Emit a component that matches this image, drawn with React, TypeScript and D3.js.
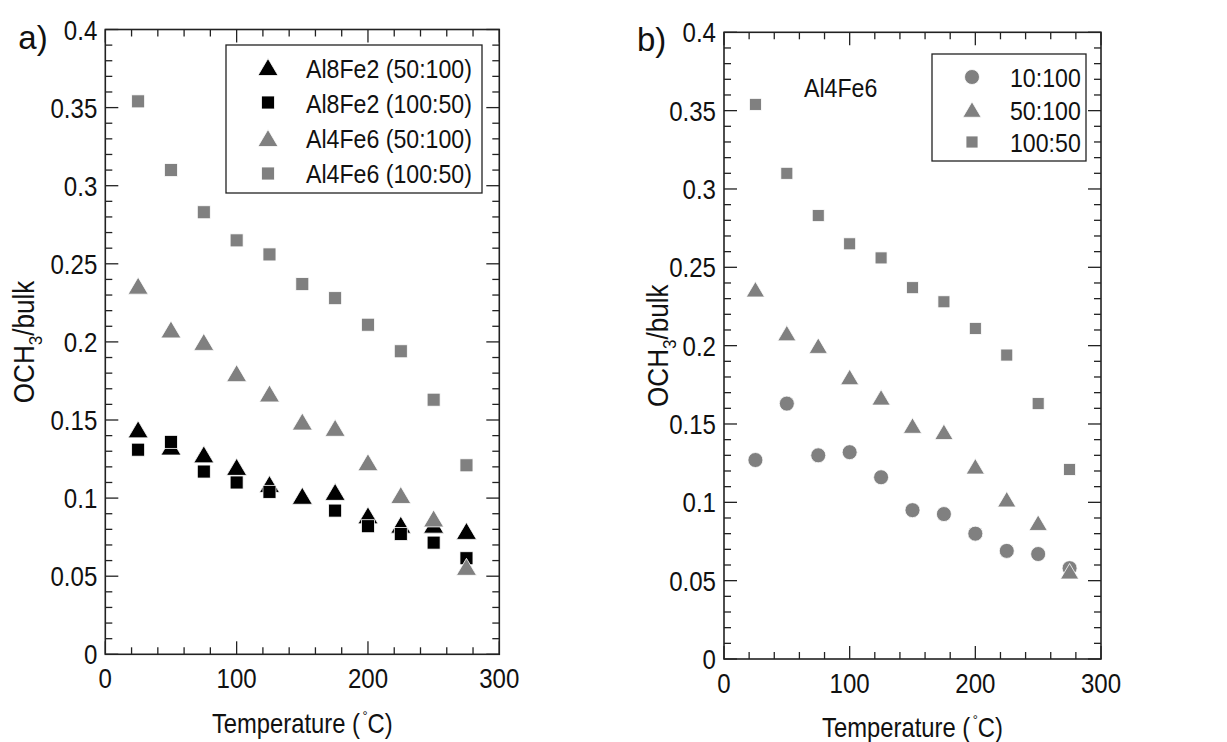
import React from 'react';
import * as d3 from 'd3';

// temperatures (°C) shared by every series
const temps = [25, 50, 75, 100, 125, 150, 175, 200, 225, 250, 275];

// OCH3/bulk values
const al8fe2_50_100 = [0.144, 0.133, 0.128, 0.120, 0.109, 0.1015, 0.104, 0.089, 0.083, 0.083, 0.079];
const al8fe2_100_50 = [0.131, 0.136, 0.117, 0.110, 0.104, null, 0.092, 0.082, 0.077, 0.0715, 0.0615];
const al4fe6_50_100 = [0.236, 0.208, 0.200, 0.180, 0.167, 0.149, 0.145, 0.123, 0.102, 0.087, 0.056];
const al4fe6_100_50 = [0.354, 0.310, 0.283, 0.265, 0.256, 0.237, 0.228, 0.211, 0.194, 0.163, 0.121];
const al4fe6_10_100 = [0.127, 0.163, 0.130, 0.132, 0.116, 0.095, 0.0925, 0.080, 0.069, 0.067, 0.058];

const xTicks = [0, 100, 200, 300];
const yTicks = [0, 0.05, 0.1, 0.15, 0.2, 0.25, 0.3, 0.35, 0.4];

const legendA = ['Al8Fe2 (50:100)', 'Al8Fe2 (100:50)', 'Al4Fe6 (50:100)', 'Al4Fe6 (100:50)'];
const legendB = ['10:100', '50:100', '100:50'];

const FONT = '"Liberation Sans", Arial, Helvetica, sans-serif';
const BLACK = '#000';
const GREY = '#808080';
const AXIS = '#222';

type Shape = 'tri' | 'sq' | 'circ';

function Marker({ shape, x, y, color, size }: { shape: Shape; x: number; y: number; color: string; size: number }) {
  if (shape === 'circ') {
    return <circle cx={x} cy={y} r={size / 2} fill={color} stroke="#fff" strokeWidth={0.8} />;
  }
  if (shape === 'sq') {
    return <rect x={x - size / 2} y={y - size / 2} width={size} height={size} fill={color} stroke="#fff" strokeWidth={0.8} />;
  }
  const w = size * 1.18;
  const h = size;
  return (
    <path
      d={`M${x},${y - h / 2}L${x + w / 2},${y + h / 2}L${x - w / 2},${y + h / 2}Z`}
      fill={color}
      stroke="#fff"
      strokeWidth={0.8}
    />
  );
}

// glyphs in the figure are a bit condensed, so text gets a horizontal squeeze
function Txt({ x, y, size, anchor = 'start', rotate = 0, sx = 0.88, children }: any) {
  return (
    <text
      transform={`translate(${x},${y}) rotate(${rotate}) scale(${sx},1)`}
      fontSize={size}
      textAnchor={anchor}
      fontFamily={FONT}
      fill="#111"
    >
      {children}
    </text>
  );
}

type Series = { values: (number | null)[]; shape: Shape; color: string; size: number };

function Panel({
  left, right, top, bottom, series, label, titleX, titleDy,
}: {
  left: number; right: number; top: number; bottom: number; series: Series[]; label: string; titleX: number; titleDy: number;
}) {
  const x = d3.scaleLinear().domain([0, 300]).range([left, right]);
  const y = d3.scaleLinear().domain([0, 0.4]).range([bottom, top]);
  const xMinor = d3.range(0, 301, 20).filter((v) => v % 100 !== 0);
  const yMinor = d3.range(0, 41, 1).map((v) => v / 100).filter((v, i) => i % 5 !== 0);
  const major = 13;
  const minor = 7;

  return (
    <g>
      {/* ticks, all four sides, pointing inward */}
      {xTicks.map((t) => (
        <g key={'xt' + t}>
          <line x1={x(t)} x2={x(t)} y1={bottom} y2={bottom - major} stroke={AXIS} strokeWidth={1.3} />
          <line x1={x(t)} x2={x(t)} y1={top} y2={top + major} stroke={AXIS} strokeWidth={1.3} />
        </g>
      ))}
      {xMinor.map((t) => (
        <g key={'xm' + t}>
          <line x1={x(t)} x2={x(t)} y1={bottom} y2={bottom - minor} stroke={AXIS} strokeWidth={1.3} />
          <line x1={x(t)} x2={x(t)} y1={top} y2={top + minor} stroke={AXIS} strokeWidth={1.3} />
        </g>
      ))}
      {yTicks.map((t) => (
        <g key={'yt' + t}>
          <line x1={left} x2={left + major} y1={y(t)} y2={y(t)} stroke={AXIS} strokeWidth={1.3} />
          <line x1={right} x2={right - major} y1={y(t)} y2={y(t)} stroke={AXIS} strokeWidth={1.3} />
        </g>
      ))}
      {yMinor.map((t) => (
        <g key={'ym' + t}>
          <line x1={left} x2={left + minor} y1={y(t)} y2={y(t)} stroke={AXIS} strokeWidth={1.3} />
          <line x1={right} x2={right - minor} y1={y(t)} y2={y(t)} stroke={AXIS} strokeWidth={1.3} />
        </g>
      ))}
      <rect x={left} y={top} width={right - left} height={bottom - top} fill="none" stroke={AXIS} strokeWidth={1.6} />

      {/* tick labels */}
      {xTicks.map((t) => (
        <Txt key={'xl' + t} x={x(t)} y={bottom + 34} size={28} sx={0.86} anchor="middle">
          {String(t)}
        </Txt>
      ))}
      {yTicks.map((t) => (
        <Txt key={'yl' + t} x={left - 8} y={y(t) + 10} size={28} sx={0.86} anchor="end">
          {d3.format('~g')(t)}
        </Txt>
      ))}

      {/* axis titles */}
      <Txt x={(left + right) / 2} y={bottom + titleDy} size={28} sx={0.85} anchor="middle">
        Temperature (<tspan dx={3} dy={-12} fontSize={15}>°</tspan>
        <tspan dy={12}>C)</tspan>
      </Txt>
      <Txt x={titleX} y={(top + bottom) / 2} size={29} sx={0.9} anchor="middle" rotate={-90}>
        OCH<tspan fontSize={19} dy={8}>3</tspan>
        <tspan dy={-8}>/bulk</tspan>
      </Txt>

      <text x={left - 87} y={top + 19} fontSize={33} fontFamily={FONT} fill="#111">
        {label}
      </text>

      {/* data */}
      {series.map((s, si) => (
        <g key={'s' + si}>
          {temps.map((t, i) =>
            s.values[i] == null ? null : (
              <Marker key={i} shape={s.shape} x={x(t)} y={y(s.values[i] as number)} color={s.color} size={s.size} />
            ),
          )}
        </g>
      ))}
    </g>
  );
}

export default function App() {
  const seriesA: Series[] = [
    { values: al8fe2_50_100, shape: 'tri', color: BLACK, size: 17 },
    { values: al8fe2_100_50, shape: 'sq', color: BLACK, size: 13 },
    { values: al4fe6_50_100, shape: 'tri', color: GREY, size: 17 },
    { values: al4fe6_100_50, shape: 'sq', color: GREY, size: 13 },
  ];
  const seriesB: Series[] = [
    { values: al4fe6_10_100, shape: 'circ', color: GREY, size: 15 },
    { values: al4fe6_50_100, shape: 'tri', color: GREY, size: 15.5 },
    { values: al4fe6_100_50, shape: 'sq', color: GREY, size: 12 },
  ];

  const legA = [
    { shape: 'tri' as Shape, color: BLACK, size: 17 },
    { shape: 'sq' as Shape, color: BLACK, size: 13 },
    { shape: 'tri' as Shape, color: GREY, size: 17 },
    { shape: 'sq' as Shape, color: GREY, size: 13 },
  ];
  const legB = [
    { shape: 'circ' as Shape, color: GREY, size: 15 },
    { shape: 'tri' as Shape, color: GREY, size: 15.5 },
    { shape: 'sq' as Shape, color: GREY, size: 12 },
  ];

  return (
    <svg
      width={1227}
      height={742}
      style={{ position: 'absolute', left: 0, top: 0, background: '#fff' }}
    >
      <rect width={1227} height={742} fill="#fff" />
      <Panel left={105.3} right={499.3} top={29.5} bottom={654.3} series={seriesA} label="a)" titleX={34} titleDy={79} />
      <Panel left={724} right={1101} top={32.3} bottom={659} series={seriesB} label="b)" titleX={668} titleDy={78} />

      {/* legend a */}
      <rect x={226} y={45} width={256} height={148} fill="#fff" stroke={AXIS} strokeWidth={1.3} />
      {legendA.map((name, i) => (
        <g key={name}>
          <Marker shape={legA[i].shape} x={268} y={67 + i * 35.5} color={legA[i].color} size={legA[i].size} />
          <Txt x={306} y={68 + i * 35 + 10} size={26} sx={0.89}>
            {name}
          </Txt>
        </g>
      ))}

      {/* legend b */}
      <rect x={932} y={54} width={154} height={107} fill="#fff" stroke={AXIS} strokeWidth={1.3} />
      {legendB.map((name, i) => (
        <g key={name}>
          <Marker shape={legB[i].shape} x={972} y={77 + i * 32.5} color={legB[i].color} size={legB[i].size} />
          <Txt x={1010} y={77 + i * 32.5 + 10} size={26} sx={0.89}>
            {name}
          </Txt>
        </g>
      ))}
      <Txt x={804} y={97} size={26} sx={0.89}>
        Al4Fe6
      </Txt>
    </svg>
  );
}
